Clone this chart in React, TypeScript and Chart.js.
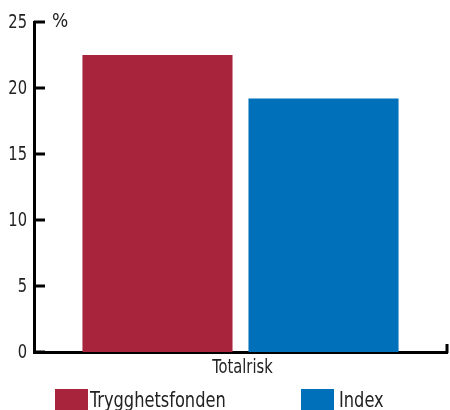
import React, { useEffect, useRef } from "react";
import { Chart, registerables } from "chart.js";

Chart.register(...registerables);

const categories = ["Totalrisk"];
const seriesNames = ["Trygghetsfonden", "Index"];
const trygghetsfonden = [22.5];
const indexValues = [19.2];
const seriesColors = ["#A8233C", "#0070BA"];
const yTicks = [0, 5, 10, 15, 20, 25];
const unitLabel = "%";

const FONT = "'DejaVu Sans Condensed', 'Liberation Sans', sans-serif";

function narrowText(ctx: any, text: string, x: number, y: number, align: string, sx: number) {
  ctx.save();
  ctx.translate(x, y);
  ctx.scale(sx, 1);
  ctx.textAlign = align;
  ctx.fillText(text, 0, 0);
  ctx.restore();
}

export default function App() {
  const ref = useRef<HTMLCanvasElement | null>(null);

  useEffect(() => {
    if (!ref.current) return;
    const decor = {
      id: "decor",
      afterDraw(chart: any) {
        const ctx = chart.ctx;
        const ca = chart.chartArea;
        const y = chart.scales.y;
        const x = chart.scales.x;
        ctx.save();
        ctx.strokeStyle = "#000";
        ctx.lineWidth = 3;
        // inner y tick marks
        yTicks.forEach((v) => {
          const py = Math.round(y.getPixelForValue(v));
          ctx.beginPath();
          ctx.moveTo(ca.left, py);
          ctx.lineTo(ca.left + 11, py);
          ctx.stroke();
        });
        // right end tick
        ctx.beginPath();
        ctx.moveTo(ca.right, ca.bottom + 1);
        ctx.lineTo(ca.right, ca.bottom - 8);
        ctx.stroke();
        ctx.fillStyle = "#222";
        ctx.textBaseline = "middle";
        // y tick labels
        ctx.font = `19px ${FONT}`;
        yTicks.forEach((v) => {
          const py = y.getPixelForValue(v);
          narrowText(ctx, String(v), 27, py + 1, "right", 0.86);
        });
        ctx.textBaseline = "alphabetic";
        // x category labels
        categories.forEach((c, i) => {
          narrowText(ctx, c, x.getPixelForValue(i) + 2, 373, "center", 0.86);
        });
        // unit label
        ctx.font = `20px ${FONT}`;
        narrowText(ctx, unitLabel, 52, 27, "left", 0.95);
        // legend
        const items = [
          { x: 55, tx: 90 },
          { x: 301, tx: 339 },
        ];
        ctx.font = `22px ${FONT}`;
        chart.data.datasets.forEach((ds: any, i: number) => {
          const it = items[i];
          ctx.fillStyle = ds.backgroundColor;
          ctx.fillRect(it.x, 389, 33, 21);
          ctx.fillStyle = "#222";
          narrowText(ctx, ds.label, it.tx, 407, "left", 0.82);
        });
        ctx.restore();
      },
    };

    const chart = new Chart(ref.current, {
      type: "bar",
      data: {
        labels: categories,
        datasets: [
          {
            label: seriesNames[0],
            data: trygghetsfonden,
            backgroundColor: seriesColors[0],
            barPercentage: 0.904,
            categoryPercentage: 0.804,
          },
          {
            label: seriesNames[1],
            data: indexValues,
            backgroundColor: seriesColors[1],
            barPercentage: 0.904,
            categoryPercentage: 0.804,
          },
        ],
      },
      options: {
        animation: false,
        responsive: false,
        maintainAspectRatio: false,
        layout: { padding: { top: 22, right: 3, bottom: 0, left: 0 } },
        plugins: { legend: { display: false }, tooltip: { enabled: false } },
        scales: {
          x: {
            grid: { display: false, drawTicks: false },
            border: { display: true, color: "#000", width: 3 },
            ticks: { display: false },
            afterFit: (s: any) => {
              s.height = 58;
            },
          },
          y: {
            min: 0,
            max: 25,
            afterBuildTicks: (s: any) => {
              s.ticks = yTicks.map((v) => ({ value: v }));
            },
            grid: { display: false, drawTicks: false },
            border: { display: true, color: "#000", width: 3 },
            ticks: { display: false },
            afterFit: (s: any) => {
              s.width = 34;
            },
          },
        },
      },
      plugins: [decor],
    });
    return () => chart.destroy();
  }, []);

  return (
    <div style={{ position: "absolute", left: 0, top: 0, width: 450, height: 410, background: "#fff" }}>
      <canvas ref={ref} width={450} height={410} style={{ width: 450, height: 410 }} />
    </div>
  );
}
